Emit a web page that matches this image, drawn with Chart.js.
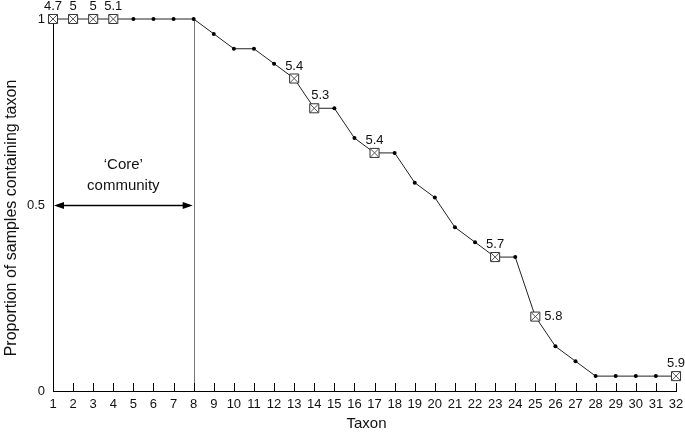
<!DOCTYPE html>
<html><head><meta charset="utf-8">
<script src="https://cdn.jsdelivr.net/npm/chart.js@4.4.0/dist/chart.umd.min.js"></script>
<style>html,body{margin:0;padding:0;background:#fff}#wrap{width:685px;height:432px}</style>
</head><body><div id="wrap"><canvas id="c" width="685" height="432"></canvas></div>
<script>
const taxa = [1,2,3,4,5,6,7,8,9,10,11,12,13,14,15,16,17,18,19,20,21,22,23,24,25,26,27,28,29,30,31,32];
const proportions = [1,1,1,1,1,1,1,1,0.96,0.92,0.92,0.88,0.84,0.76,0.76,0.68,0.64,0.64,0.56,0.52,0.44,0.40,0.36,0.36,0.20,0.12,0.08,0.04,0.04,0.04,0.04,0.04];
const markedTaxa = [1,2,3,4,13,14,17,23,25,32];
const markedLabels = ['4.7','5','5','5.1','5.4','5.3','5.4','5.7','5.8','5.9'];
const labelSide = ['top','top','top','top','top','topright','top','top','right','top'];
const yTickValues = [0,0.5,1];
const coreStart = 1, coreEnd = 8, coreLevel = 0.5;
const coreLabel = ['\u2018Core\u2019','community'];
const xTitle = 'Taxon';
const yTitle = 'Proportion of samples containing taxon';

const FONT = 'Liberation Sans, Arial, Helvetica, sans-serif';
const isMarked = t => markedTaxa.indexOf(t) >= 0;
const valueOf = t => proportions[taxa.indexOf(t)];

const decor = {
  id: 'decor',
  beforeDatasetsDraw(chart) {
    const {ctx, chartArea: a, scales: {x, y}} = chart;
    ctx.save();
    const xe = Math.round(x.getPixelForValue(coreEnd)) + 0.5;
    ctx.strokeStyle = '#777'; ctx.lineWidth = 1;
    ctx.beginPath(); ctx.moveTo(xe, y.getPixelForValue(1)); ctx.lineTo(xe, a.bottom); ctx.stroke();
    ctx.strokeStyle = '#000';
    ctx.beginPath();
    taxa.forEach(t => {
      if (t === taxa[0]) return;
      const px = Math.round(x.getPixelForValue(t)) + 0.5;
      ctx.moveTo(px, a.bottom); ctx.lineTo(px, a.bottom - 8);
    });
    ctx.stroke();
    ctx.restore();
  },
  afterDraw(chart) {
    const {ctx, chartArea: a, scales: {x, y}} = chart;
    ctx.save();
    ctx.fillStyle = '#111';
    ctx.font = '13px ' + FONT;
    markedTaxa.forEach((t, i) => {
      const px = x.getPixelForValue(t);
      const py = y.getPixelForValue(valueOf(t));
      if (labelSide[i] === 'right') {
        ctx.textAlign = 'left'; ctx.textBaseline = 'middle';
        ctx.fillText(markedLabels[i], px + 9, py);
      } else {
        ctx.textAlign = 'center'; ctx.textBaseline = 'alphabetic';
        ctx.fillText(markedLabels[i], px + (labelSide[i] === 'topright' ? 6 : 0), py - 9);
      }
    });
    // core arrow
    const x1 = x.getPixelForValue(coreStart), x2 = x.getPixelForValue(coreEnd);
    const ya = Math.round(y.getPixelForValue(coreLevel)) + 0.5;
    ctx.strokeStyle = '#000'; ctx.lineWidth = 1.3;
    ctx.beginPath(); ctx.moveTo(x1 + 4, ya); ctx.lineTo(x2 - 4, ya); ctx.stroke();
    ctx.fillStyle = '#000';
    ctx.beginPath(); ctx.moveTo(x1 + 1, ya); ctx.lineTo(x1 + 11, ya - 3.5); ctx.lineTo(x1 + 11, ya + 3.5); ctx.closePath(); ctx.fill();
    ctx.beginPath(); ctx.moveTo(x2 - 1, ya); ctx.lineTo(x2 - 11, ya - 3.5); ctx.lineTo(x2 - 11, ya + 3.5); ctx.closePath(); ctx.fill();
    ctx.fillStyle = '#111';
    ctx.font = '15px ' + FONT;
    ctx.textAlign = 'center'; ctx.textBaseline = 'middle';
    const xc = (x1 + x2) / 2;
    ctx.fillText(coreLabel[0], xc, ya - 41);
    ctx.fillText(coreLabel[1], xc, ya - 20);
    // x title
    ctx.fillText(xTitle, (a.left + a.right) / 2 + 2, a.bottom + 33);
    // y title
    ctx.translate(12, (a.top + a.bottom) / 2 + 13);
    ctx.rotate(-Math.PI / 2);
    ctx.font = '16px ' + FONT;
    ctx.fillText(yTitle, 0, 0);
    ctx.restore();
  }
};

new Chart(document.getElementById('c'), {
  type: 'line',
  data: {
    datasets: [{
      data: markedTaxa.map(t => ({x: t, y: valueOf(t)})),
      showLine: false,
      clip: false,
      pointStyle: 'crossRot',
      pointRadius: 6.2,
      pointBorderColor: '#555',
      pointBorderWidth: 1
    }, {
      data: taxa.map((t, i) => ({x: t, y: proportions[i]})),
      borderColor: '#222',
      borderWidth: 1,
      tension: 0,
      clip: false,
      pointStyle: ctx => isMarked(taxa[ctx.dataIndex]) ? 'rect' : 'circle',
      pointRadius: ctx => isMarked(taxa[ctx.dataIndex]) ? 6.4 : 2,
      pointBackgroundColor: ctx => isMarked(taxa[ctx.dataIndex]) ? '#fff' : '#000',
      pointBorderColor: '#333',
      pointBorderWidth: ctx => isMarked(taxa[ctx.dataIndex]) ? 1 : 0
    }]
  },
  options: {
    responsive: false,
    animation: false,
    devicePixelRatio: 1,
    layout: {padding: {top: 19, right: 9, left: 0, bottom: 0}},
    plugins: {legend: {display: false}, tooltip: {enabled: false}},
    scales: {
      x: {
        type: 'linear', min: 1, max: 32,
        afterBuildTicks: s => { s.ticks = taxa.map(v => ({value: v})); },
        afterFit: s => { s.height = 41; s.paddingLeft = 0; s.paddingRight = 0; },
        grid: {display: false, drawTicks: false},
        border: {display: true, color: '#000', width: 1},
        ticks: {autoSkip: false, maxRotation: 0, padding: 6, color: '#111', font: {family: FONT, size: 13}},
        title: {display: false}
      },
      y: {
        min: 0, max: 1,
        afterBuildTicks: s => { s.ticks = yTickValues.map(v => ({value: v})); },
        afterFit: s => { s.width = 53; s.paddingTop = 0; s.paddingBottom = 0; },
        grid: {display: false, drawTicks: false},
        border: {display: true, color: '#000', width: 1},
        ticks: {padding: 8, color: '#111', font: {family: FONT, size: 13}, callback: v => String(v)},
        title: {display: false}
      }
    }
  },
  plugins: [decor]
});
</script></body></html>
